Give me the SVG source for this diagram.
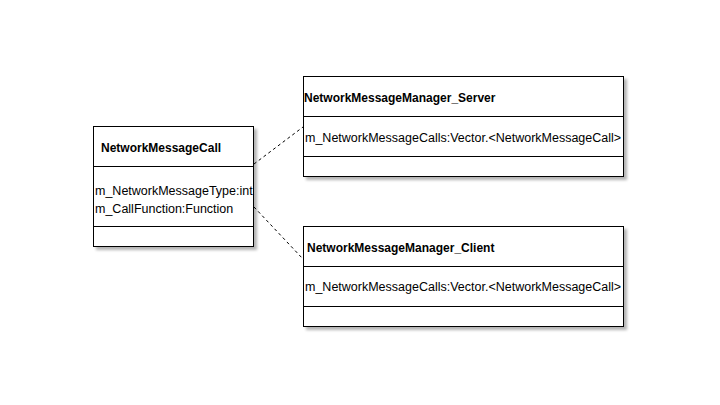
<svg xmlns="http://www.w3.org/2000/svg" width="720" height="405" viewBox="0 0 720 405">
<defs>
<filter id="sh" x="-10%" y="-10%" width="120%" height="130%">
<feGaussianBlur in="SourceAlpha" stdDeviation="1.5"/>
<feOffset dx="3" dy="3"/>
<feComponentTransfer><feFuncA type="linear" slope="0.3"/></feComponentTransfer>
<feMerge><feMergeNode/><feMergeNode in="SourceGraphic"/></feMerge>
</filter>
</defs>
<style>
.box{fill:#fff;stroke:#000;stroke-width:1}
.div{stroke:#000;stroke-width:1}
.t{font-family:"Liberation Sans",Arial,sans-serif;font-size:12.5px;fill:#000}
.b{font-weight:bold;font-size:12px}
.c{stroke:#000;stroke-width:1;stroke-dasharray:3,3;fill:none}
</style>
<rect width="720" height="405" fill="#fff"/>
<g id="connectors">
<line class="c" x1="254" y1="164" x2="303" y2="127"/>
<line class="c" x1="254" y1="207" x2="303" y2="259"/>
</g>
<g id="NetworkMessageCall">
<rect class="box" x="93.5" y="126.5" width="160" height="120" filter="url(#sh)"/>
<line class="div" x1="93.5" y1="166.5" x2="253.5" y2="166.5"/>
<line class="div" x1="93.5" y1="226.5" x2="253.5" y2="226.5"/>
<text class="t b" x="101" y="152">NetworkMessageCall</text>
<text class="t" x="95" y="195">m_NetworkMessageType:int</text>
<text class="t" x="95" y="213">m_CallFunction:Function</text>
</g>
<g id="NetworkMessageManager_Server">
<rect class="box" x="303.5" y="76.5" width="320" height="100" filter="url(#sh)"/>
<line class="div" x1="303.5" y1="116.5" x2="623.5" y2="116.5"/>
<line class="div" x1="303.5" y1="156.5" x2="623.5" y2="156.5"/>
<text class="t b" x="304" y="102">NetworkMessageManager_Server</text>
<text class="t" x="305" y="142">m_NetworkMessageCalls:Vector.&lt;NetworkMessageCall&gt;</text>
</g>
<g id="NetworkMessageManager_Client">
<rect class="box" x="303.5" y="226.5" width="320" height="100" filter="url(#sh)"/>
<line class="div" x1="303.5" y1="266.5" x2="623.5" y2="266.5"/>
<line class="div" x1="303.5" y1="306.5" x2="623.5" y2="306.5"/>
<text class="t b" x="307" y="252">NetworkMessageManager_Client</text>
<text class="t" x="305" y="291">m_NetworkMessageCalls:Vector.&lt;NetworkMessageCall&gt;</text>
</g>
</svg>
